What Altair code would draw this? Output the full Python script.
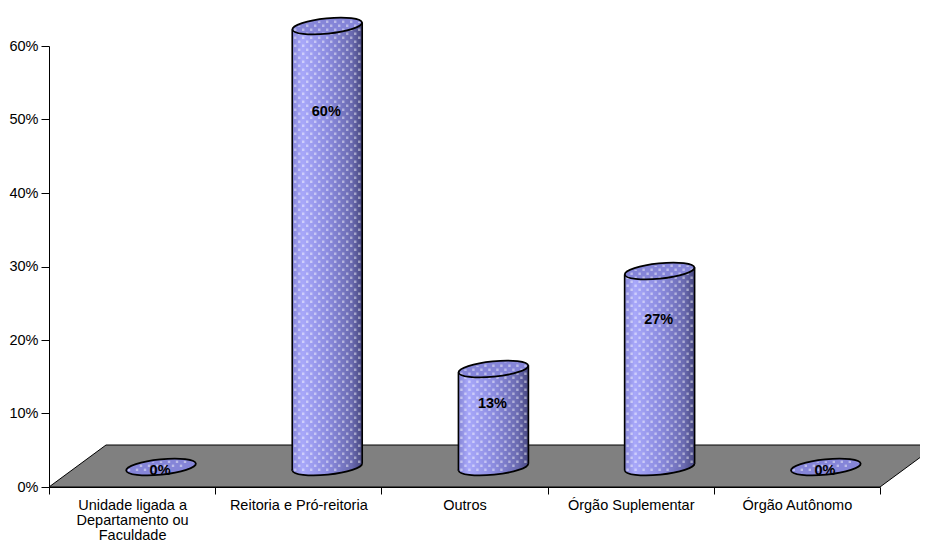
import math
import altair as alt
import pandas as pd

categories = ["Unidade ligada a Departamento ou Faculdade", "Reitoria e Pró-reitoria", "Outros", "Órgão Suplementar", "Órgão Autônomo"]
values = [0.0, 0.60, 0.1333, 0.2667, 0.0]
labels = ["0%", "60%", "13%", "27%", "0%"]

FONT = "Liberation Sans"
W, H = 831, 441
PX_Y = H / 0.6          # pixels per unit of value
PX_X = W / 5            # pixels per category
FLOOR_LIFT = 20 / PX_Y  # depth of the bar base above the axis
DEPTH_Y = 42 / PX_Y
DEPTH_X = 57 / PX_X
CENTER = 0.674
HALF = 35 / PX_X
TILT = 3.5 / PX_Y       # rise of the cylinder rim from centre to its right end
SEMI_MINOR = 7.7


def ellipse_path(ratio, angle):
    c, s = math.cos(angle), math.sin(angle)
    k = 0.5523
    def p(x, y):
        y = y * ratio
        return f"{x * c - y * s:.4f},{x * s + y * c:.4f}"
    return (f"M{p(-1, 0)}C{p(-1, k)} {p(-k, 1)} {p(0, 1)}C{p(k, 1)} {p(1, k)} {p(1, 0)}"
            f"C{p(1, -k)} {p(k, -1)} {p(0, -1)}C{p(-k, -1)} {p(-1, -k)} {p(-1, 0)}Z")


ELLIPSE = ellipse_path(SEMI_MINOR / 35, -0.1)

base = pd.DataFrame({"cat": categories, "value": values, "label": labels, "i": range(5)})
base["cx"] = base["i"] + CENTER
base["top"] = base["value"] + FLOOR_LIFT
base["base"] = FLOOR_LIFT
base["label_y"] = [v * 0.85 + (0.022 if v == 0 else 0) for v in values]

floor = pd.DataFrame({
    "x": [0, DEPTH_X, 5, 5 + DEPTH_X],
    "y": [0, DEPTH_Y, DEPTH_Y, DEPTH_Y],
    "y2": [0, 0, 0, DEPTH_Y],
})

body_rows, dot_rows = [], []
for i, v in enumerate(values):
    cx = i + CENTER
    if v > 0:
        for side in (-1, 1):
            body_rows.append({"i": i, "x": cx + side * HALF,
                              "y": v + FLOOR_LIFT + side * TILT,
                              "y2": FLOOR_LIFT + side * TILT})
    for col in range(-8, 9):
        dx = col * 4
        u = dx / 35
        edge = SEMI_MINOR * math.sqrt(max(0, 1 - u * u)) - 2.0
        rise = dx * 0.1
        bot = FLOOR_LIFT * PX_Y + rise - edge
        top = (v + FLOOR_LIFT) * PX_Y + rise + edge
        phase = 4 * (col % 2)
        start = math.ceil((bot - phase) / 8) * 8 + phase
        if start < top:
            dot_rows.append({"x": cx + dx / PX_X, "y": start / PX_Y, "y2": top / PX_Y})
body = pd.DataFrame(body_rows)
dots = pd.DataFrame(dot_rows)

xlin = alt.Scale(domain=[0, 5])
yscale = alt.Scale(domain=[0, 0.6], nice=False)
y_axis = alt.Axis(format=".0%", values=[0, .1, .2, .3, .4, .5, .6], title=None, grid=False, zindex=3,
                  tickSize=8, tickColor="black", domainColor="black", labelColor="black",
                  labelFont=FONT, labelFontSize=14.5, labelPadding=3)
x_none = alt.X("x:Q", scale=xlin, axis=None)

floor_layer = alt.Chart(floor).mark_area(fill="#808080", stroke="black", strokeWidth=1).encode(
    x=x_none, y=alt.Y("y:Q", scale=yscale, axis=y_axis), y2="y2:Q")

body_fill = alt.Gradient(
    gradient="linear", x1=0, x2=1, y1=0, y2=0,
    stops=[alt.GradientStop(offset=0, color="#8484d4"),
           alt.GradientStop(offset=0.14, color="#a8a8fa"),
           alt.GradientStop(offset=0.5, color="#8c8ce0"),
           alt.GradientStop(offset=0.85, color="#6a6ab0"),
           alt.GradientStop(offset=1, color="#474780")])

ell_x = alt.X("cx:Q", scale=xlin, axis=None)
bottom_ellipse = alt.Chart(base[base["value"] > 0]).mark_point(
    shape=ELLIPSE, size=4900, filled=True, fill=body_fill, stroke="black", strokeWidth=1.8, opacity=1
).encode(x=ell_x, y=alt.Y("base:Q", scale=yscale, axis=y_axis))

body_layer = alt.Chart(body).mark_area(fill=body_fill).encode(
    x=x_none, y=alt.Y("y:Q", scale=yscale, axis=y_axis), y2="y2:Q", detail="i:N")

top_ellipse = alt.Chart(base).mark_point(
    shape=ELLIPSE, size=4900, filled=True, fill="#8585d8", strokeWidth=0, opacity=1
).encode(x=ell_x, y=alt.Y("top:Q", scale=yscale, axis=y_axis))

texture = alt.Chart(dots).mark_rule(color="white", opacity=0.45, strokeWidth=2.4, strokeDash=[2.4, 5.6]).encode(
    x=x_none, y=alt.Y("y:Q", scale=yscale, axis=y_axis), y2="y2:Q")

side_lines = alt.Chart(body).mark_rule(color="black", strokeWidth=1.6).encode(
    x=x_none, y=alt.Y("y:Q", scale=yscale, axis=y_axis), y2="y2:Q")

top_outline = alt.Chart(base).mark_point(
    shape=ELLIPSE, size=4900, filled=False, stroke="black", strokeWidth=1.8, opacity=1
).encode(x=ell_x, y=alt.Y("top:Q", scale=yscale, axis=y_axis))

text_layer = alt.Chart(base).mark_text(
    font=FONT, fontSize=14.5, fontWeight="bold", color="black", xOffset=28, baseline="middle"
).encode(
    x=alt.X("cat:N", sort=categories, scale=alt.Scale(type="band", paddingInner=0, paddingOuter=0),
            axis=alt.Axis(title=None, grid=False, labelAngle=0, tickBand="extent", zindex=3, tickSize=7,
                          tickColor="black", domainColor="black", labelColor="black", labelFont=FONT,
                          labelFontSize=14.5, labelPadding=4, labelLineHeight=15, labelLimit=200,
                          labelExpr="datum.label == 'Unidade ligada a Departamento ou Faculdade' ? "
                                    "['Unidade ligada a', 'Departamento ou', 'Faculdade'] : datum.label")),
    y=alt.Y("label_y:Q", scale=yscale, axis=y_axis),
    text="label:N")

chart = alt.layer(floor_layer, bottom_ellipse, body_layer, top_ellipse, texture, side_lines, top_outline, text_layer).resolve_scale(
    x="independent"
).properties(
    width=W, height=H,
    autosize=alt.AutoSizeParams(type="none", contains="content"),
    padding={"left": 41, "top": 38, "right": 40, "bottom": 56},
    background="white",
).configure_view(stroke=None)

chart.save("out.html", embed_options={"renderer": "svg", "actions": False})
